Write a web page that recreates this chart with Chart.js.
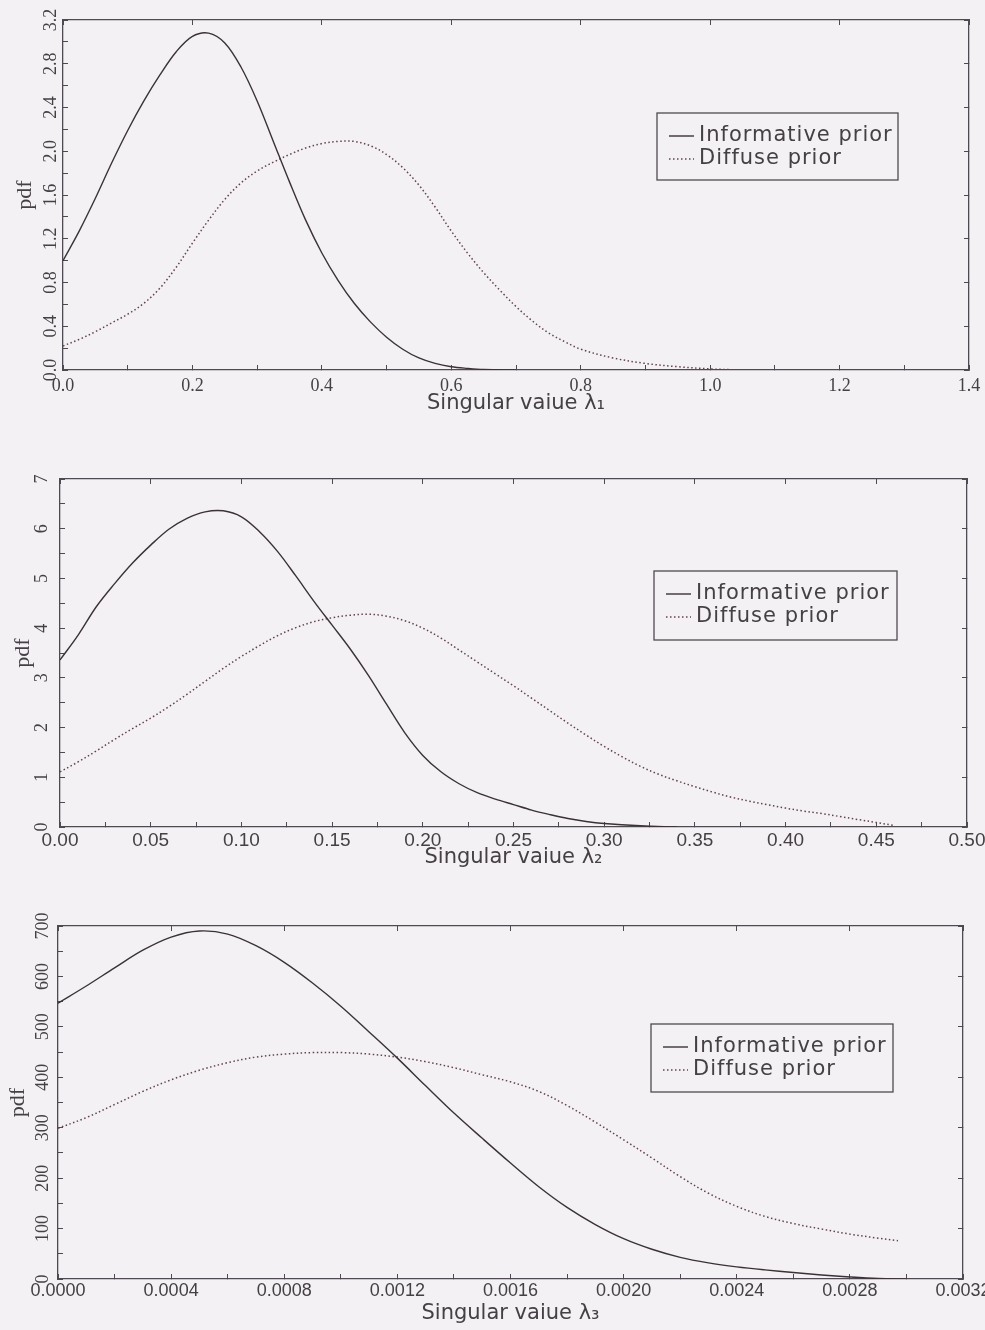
<!DOCTYPE html>
<html>
<head>
<meta charset="utf-8">
<script src="https://cdn.jsdelivr.net/npm/chart.js@4.4.1/dist/chart.umd.min.js"></script>
<style>
    html, body { margin: 0; padding: 0; background: #f3f1f4; overflow: hidden; }
    body { width: 985px; height: 1330px; position: relative; }
    .panel { position: absolute; left: 0; width: 1040px; }
    .panel canvas { display: block; }
</style>
</head>
<body>
<div class="panel" style="top:0;height:425px"><canvas id="chart1"></canvas></div>
<div class="panel" style="top:440px;height:430px"><canvas id="chart2"></canvas></div>
<div class="panel" style="top:880px;height:450px"><canvas id="chart3"></canvas></div>
<script>
// --- panel 1: singular value lambda 1 ---
const l1XTicks = ["0.0", "0.2", "0.4", "0.6", "0.8", "1.0", "1.2", "1.4"];
const l1YTicks = ["0.0", "0.4", "0.8", "1.2", "1.6", "2.0", "2.4", "2.8", "3.2"];
const l1InformativeX = [0, 0.025, 0.05, 0.075, 0.1, 0.125, 0.15, 0.175, 0.2, 0.225, 0.25, 0.275, 0.3, 0.325, 0.35, 0.375, 0.4, 0.425, 0.45, 0.475, 0.5, 0.525, 0.55, 0.575, 0.6, 0.625, 0.65, 0.7];
const l1Informative = [1.00, 1.27, 1.57, 1.89, 2.19, 2.46, 2.70, 2.91, 3.05, 3.08, 2.99, 2.77, 2.46, 2.09, 1.72, 1.37, 1.07, 0.82, 0.61, 0.44, 0.30, 0.19, 0.11, 0.06, 0.03, 0.015, 0.005, 0];
const l1DiffuseX = [0, 0.025, 0.05, 0.075, 0.1, 0.125, 0.15, 0.175, 0.2, 0.225, 0.25, 0.275, 0.3, 0.325, 0.35, 0.375, 0.4, 0.425, 0.45, 0.475, 0.5, 0.525, 0.55, 0.575, 0.6, 0.625, 0.65, 0.675, 0.7, 0.725, 0.75, 0.775, 0.8, 0.85, 0.9, 0.95, 1.0, 1.05];
const l1Diffuse = [0.22, 0.28, 0.35, 0.43, 0.51, 0.61, 0.75, 0.94, 1.16, 1.37, 1.56, 1.71, 1.82, 1.90, 1.97, 2.03, 2.07, 2.09, 2.09, 2.05, 1.97, 1.85, 1.69, 1.49, 1.27, 1.07, 0.89, 0.73, 0.58, 0.45, 0.34, 0.26, 0.19, 0.11, 0.06, 0.03, 0.01, 0];

// --- panel 2: singular value lambda 2 ---
const l2XTicks = ["0.00", "0.05", "0.10", "0.15", "0.20", "0.25", "0.30", "0.35", "0.40", "0.45", "0.50"];
const l2YTicks = ["0", "1", "2", "3", "4", "5", "6", "7"];
const l2InformativeX = [0, 0.01, 0.02, 0.03, 0.04, 0.05, 0.06, 0.07, 0.08, 0.09, 0.10, 0.11, 0.12, 0.13, 0.14, 0.15, 0.16, 0.17, 0.18, 0.19, 0.20, 0.21, 0.22, 0.23, 0.24, 0.25, 0.26, 0.27, 0.28, 0.29, 0.30, 0.32, 0.34];
const l2Informative = [3.36, 3.86, 4.43, 4.89, 5.31, 5.67, 5.99, 6.21, 6.34, 6.36, 6.24, 5.94, 5.54, 5.05, 4.54, 4.06, 3.58, 3.05, 2.47, 1.90, 1.44, 1.11, 0.87, 0.69, 0.56, 0.45, 0.34, 0.25, 0.17, 0.11, 0.07, 0.025, 0];
const l2DiffuseX = [0, 0.01, 0.02, 0.03, 0.04, 0.05, 0.06, 0.07, 0.08, 0.09, 0.10, 0.11, 0.12, 0.13, 0.14, 0.15, 0.16, 0.17, 0.18, 0.19, 0.20, 0.21, 0.22, 0.23, 0.24, 0.25, 0.26, 0.27, 0.28, 0.29, 0.30, 0.31, 0.32, 0.33, 0.34, 0.35, 0.36, 0.37, 0.38, 0.39, 0.40, 0.41, 0.42, 0.43, 0.44, 0.45, 0.46];
const l2Diffuse = [1.11, 1.31, 1.53, 1.76, 1.98, 2.19, 2.42, 2.67, 2.93, 3.19, 3.43, 3.65, 3.85, 4.01, 4.13, 4.21, 4.26, 4.28, 4.24, 4.15, 4.00, 3.80, 3.56, 3.32, 3.08, 2.84, 2.59, 2.34, 2.09, 1.85, 1.62, 1.41, 1.22, 1.06, 0.93, 0.81, 0.70, 0.60, 0.52, 0.45, 0.38, 0.32, 0.27, 0.21, 0.15, 0.09, 0.03];

// --- panel 3: singular value lambda 3 ---
const l3XTicks = ["0.0000", "0.0004", "0.0008", "0.0012", "0.0016", "0.0020", "0.0024", "0.0028", "0.0032"];
const l3YTicks = ["0", "100", "200", "300", "400", "500", "600", "700"];
const l3InformativeX = [0, 0.0001, 0.0002, 0.0003, 0.0004, 0.0005, 0.0006, 0.0007, 0.0008, 0.0009, 0.0010, 0.0011, 0.0012, 0.0013, 0.0014, 0.0015, 0.0016, 0.0017, 0.0018, 0.0019, 0.0020, 0.0021, 0.0022, 0.0023, 0.0024, 0.0025, 0.0026, 0.0027, 0.0028, 0.0029, 0.0030];
const l3Informative = [547, 581, 617, 652, 678, 690, 684, 661, 628, 587, 541, 490, 438, 383, 329, 279, 230, 183, 142, 108, 80, 59, 43, 32, 24, 18, 13, 8, 4, 1, 0];
const l3DiffuseX = [0, 0.0001, 0.0002, 0.0003, 0.0004, 0.0005, 0.0006, 0.0007, 0.0008, 0.0009, 0.0010, 0.0011, 0.0012, 0.0013, 0.0014, 0.0015, 0.0016, 0.0017, 0.0018, 0.0019, 0.0020, 0.0021, 0.0022, 0.0023, 0.0024, 0.0025, 0.0026, 0.0027, 0.0028, 0.0029, 0.00297];
const l3Diffuse = [299, 320, 346, 372, 395, 414, 429, 440, 446, 449, 449, 446, 440, 431, 419, 405, 391, 372, 344, 311, 276, 240, 203, 170, 144, 124, 110, 99, 89, 81, 76];

const seriesLabels = ["Informative prior", "Diffuse prior"];

const ink = "#3a3236";
const dotInk = "#63424f";
const frame = "#4f4a52";
const textInk = "#454045";
const canvasWidth = 1040;

const toPoints = (xs, ys) => xs.map((x, i) => ({ x, y: ys[i] }));

const majorTicks = (labels) => labels.map((label) => ({ value: Number(label) }));

const withMinorTicks = (labels) => {
    const majors = labels.map(Number);
    const ticks = [];
    majors.forEach((value, i) => {
        ticks.push({ value });
        if (i < majors.length - 1) {
            ticks.push({ value: (value + majors[i + 1]) / 2 });
        }
    });
    return ticks;
};

// legend drawn as a framed box inside the plot, like the original figure
const boxLegend = {
    id: "boxLegend",
    afterDraw(chart, args, opts) {
        const { ctx } = chart;
        const { left, top, width, height } = opts;
        ctx.save();
        ctx.strokeStyle = frame;
        ctx.lineWidth = 1.3;
        ctx.strokeRect(left, top, width, height);
        ctx.font = "21px 'DejaVu Sans'";
        ctx.letterSpacing = "1px";
        ctx.textBaseline = "middle";
        ctx.fillStyle = textInk;
        chart.data.datasets.forEach((dataset, i) => {
            const y = top + 23 + i * 23;
            ctx.beginPath();
            ctx.setLineDash(dataset.borderDash || []);
            ctx.strokeStyle = dataset.borderColor;
            ctx.lineWidth = dataset.borderWidth;
            ctx.moveTo(left + 12, y);
            ctx.lineTo(left + 37, y);
            ctx.stroke();
            ctx.setLineDash([]);
            ctx.fillText(dataset.label, left + 42, y);
        });
        ctx.restore();
    },
};

const frameAxis = (position, min, max, labels) => ({
    type: "linear",
    position,
    min,
    max,
    afterBuildTicks: (scale) => {
        scale.ticks = majorTicks(labels);
    },
    afterFit: (scale) => {
        if (scale.isHorizontal()) {
            scale.height = 0;
        } else {
            scale.width = 0;
        }
    },
    ticks: { display: false },
    grid: { drawOnChartArea: false, tickLength: -5, color: frame, lineWidth: 1 },
    border: { color: frame, width: 1.3 },
});

const createPanel = (canvasId, panel) => {
    const canvas = document.getElementById(canvasId);
    const xMax = Number(panel.xTicks[panel.xTicks.length - 1]);
    const yMax = Number(panel.yTicks[panel.yTicks.length - 1]);

    return new Chart(canvas, {
        type: "line",
        data: {
            datasets: [
                {
                    label: seriesLabels[0],
                    data: toPoints(panel.informativeX, panel.informative),
                    borderColor: ink,
                    borderWidth: 1.4,
                    pointRadius: 0,
                    tension: 0.35,
                    xAxisID: "x",
                    yAxisID: "y",
                },
                {
                    label: seriesLabels[1],
                    data: toPoints(panel.diffuseX, panel.diffuse),
                    borderColor: dotInk,
                    borderWidth: 1.5,
                    borderDash: [1.5, 2.5],
                    pointRadius: 0,
                    tension: 0.35,
                    xAxisID: "x",
                    yAxisID: "y",
                },
            ],
        },
        options: {
            responsive: true,
            maintainAspectRatio: false,
            animation: false,
            events: [],
            layout: {
                padding: { left: 0, top: panel.plotTop, right: canvasWidth - panel.plotRight, bottom: 0 },
            },
            plugins: {
                legend: { display: false },
                tooltip: { enabled: false },
                boxLegend: panel.legendBox,
            },
            scales: {
                x: {
                    type: "linear",
                    position: "bottom",
                    min: 0,
                    max: xMax,
                    afterBuildTicks: (scale) => {
                        scale.ticks = withMinorTicks(panel.xTicks);
                    },
                    afterFit: (scale) => {
                        scale.height = panel.canvasHeight - panel.plotBottom;
                    },
                    ticks: {
                        autoSkip: false,
                        maxRotation: 0,
                        padding: panel.xTickPadding,
                        color: textInk,
                        font: panel.xTickFont,
                        callback: (value, index) => (index % 2 === 0 ? panel.xTicks[index / 2] : ""),
                    },
                    grid: { drawOnChartArea: false, tickLength: -5, color: frame, lineWidth: 1 },
                    border: { color: frame, width: 1.3 },
                    title: {
                        display: true,
                        text: panel.xTitle,
                        color: textInk,
                        font: { family: "'DejaVu Sans'", size: 21 },
                        padding: { top: 0, bottom: panel.xTitlePadding },
                    },
                },
                y: {
                    type: "linear",
                    position: "left",
                    min: 0,
                    max: yMax,
                    afterBuildTicks: (scale) => {
                        scale.ticks = withMinorTicks(panel.yTicks);
                    },
                    afterFit: (scale) => {
                        scale.width = panel.plotLeft;
                    },
                    ticks: {
                        autoSkip: false,
                        minRotation: 90,
                        maxRotation: 90,
                        crossAlign: "center",
                        padding: panel.yTickPadding,
                        color: textInk,
                        font: { family: "'Liberation Serif'", size: 18 },
                        callback: (value, index) => (index % 2 === 0 ? panel.yTicks[index / 2] : ""),
                    },
                    grid: { drawOnChartArea: false, tickLength: -5, color: frame, lineWidth: 1 },
                    border: { color: frame, width: 1.3 },
                    title: {
                        display: true,
                        text: "pdf",
                        color: textInk,
                        font: { family: "'Liberation Serif'", size: 22 },
                        padding: { top: panel.yTitlePadding, bottom: 0 },
                    },
                },
                xTop: frameAxis("top", 0, xMax, panel.xTicks),
                yRight: frameAxis("right", 0, yMax, panel.yTicks),
            },
        },
        plugins: [boxLegend],
    });
};

createPanel("chart1", {
    xTicks: l1XTicks,
    yTicks: l1YTicks,
    informativeX: l1InformativeX,
    informative: l1Informative,
    diffuseX: l1DiffuseX,
    diffuse: l1Diffuse,
    xTitle: "Singular vaiue λ₁",
    canvasHeight: 425,
    plotLeft: 63,
    plotRight: 969,
    plotTop: 20,
    plotBottom: 370,
    xTickFont: { family: "'Liberation Serif'", size: 18 },
    xTickPadding: 10,
    yTickPadding: 5,
    xTitlePadding: 9,
    yTitlePadding: 12,
    legendBox: { left: 657, top: 113, width: 241, height: 67 },
});

createPanel("chart2", {
    xTicks: l2XTicks,
    yTicks: l2YTicks,
    informativeX: l2InformativeX,
    informative: l2Informative,
    diffuseX: l2DiffuseX,
    diffuse: l2Diffuse,
    xTitle: "Singular vaiue λ₂",
    canvasHeight: 430,
    plotLeft: 60,
    plotRight: 967,
    plotTop: 39,
    plotBottom: 387,
    xTickFont: { family: "'Liberation Sans'", size: 19 },
    xTickPadding: 7,
    yTickPadding: 18,
    xTitlePadding: 0,
    yTitlePadding: 10,
    legendBox: { left: 654, top: 131, width: 243, height: 69 },
});

createPanel("chart3", {
    xTicks: l3XTicks,
    yTicks: l3YTicks,
    informativeX: l3InformativeX,
    informative: l3Informative,
    diffuseX: l3DiffuseX,
    diffuse: l3Diffuse,
    xTitle: "Singular vaiue λ₃",
    canvasHeight: 450,
    plotLeft: 58,
    plotRight: 963,
    plotTop: 46,
    plotBottom: 399,
    xTickFont: { family: "'Liberation Sans'", size: 18 },
    xTickPadding: 6,
    yTickPadding: 6,
    xTitlePadding: 4,
    yTitlePadding: 5,
    legendBox: { left: 651, top: 144, width: 242, height: 68 },
});
</script>
</body>
</html>
